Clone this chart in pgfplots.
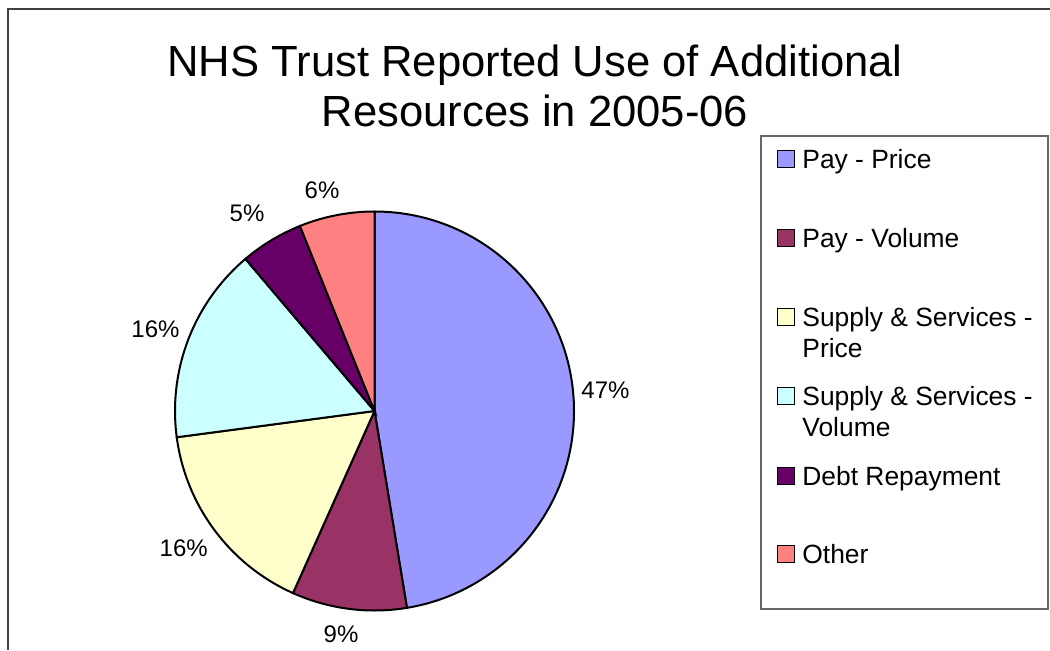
\documentclass[border=0pt]{standalone}
\usepackage{pgfplots}
\usepackage{pgfplotstable}
\pgfplotsset{compat=1.18}
\usepackage{fontspec}
\setmainfont{Liberation Sans}

\definecolor{payprice}{HTML}{9999FF}
\definecolor{payvol}{HTML}{993366}
\definecolor{supprice}{HTML}{FFFFCC}
\definecolor{supvol}{HTML}{CCFFFF}
\definecolor{debt}{HTML}{660066}
\definecolor{other}{HTML}{FF8080}

% share of each slice (percent), label text and label position (px, y down)
\pgfplotstableread[col sep=comma]{
name,value,pct,col,lx,ly
PayPrice,47.4,47,payprice,605.5,390
PayVolume,9.3,9,payvol,341,634
SupplyPrice,16.2,16,supprice,183.7,548.7
SupplyVolume,15.9,16,supvol,155.5,329
Debt,5.1,5,debt,247,213
Other,6.1,6,other,322,190
}\piedata

% slice start / end angles, clockwise from 12 o'clock
\def\cum{0}
\pgfplotsforeachungrouped \i in {0,...,5}{%
  \pgfplotstablegetelem{\i}{value}\of\piedata
  \let\v\pgfplotsretval
  \pgfmathsetmacro\a{90-3.6*\cum}%
  \pgfmathsetmacro\cum{\cum+\v}%
  \pgfmathsetmacro\b{90-3.6*\cum}%
  \expandafter\xdef\csname sa\i\endcsname{\a}%
  \expandafter\xdef\csname ea\i\endcsname{\b}%
  \pgfplotstablegetelem{\i}{col}\of\piedata
  \expandafter\xdef\csname sc\i\endcsname{\pgfplotsretval}%
}

\newcommand\lblfont{\fontsize{12}{14}\selectfont}
\newcommand\legfont{\fontsize{13.2}{15}\selectfont}
\newcommand\titlefont{\fontsize{21.8}{24}\selectfont}

\begin{document}
\begin{tikzpicture}
\useasboundingbox (0,0) rectangle (525pt,325pt);
\begin{axis}[
  scale only axis, width=525pt, height=325pt,
  xmin=0, xmax=1050, ymin=0, ymax=650, y dir=reverse,
  hide axis, clip=false,
]
\pgfplotsinvokeforeach{0,...,5}{
  \edef\temp{\noexpand\draw[line width=1pt, fill=\csname sc#1\endcsname]
    (axis cs:374.5,411) -- ++(\csname sa#1\endcsname:99.75pt)
    arc[start angle=\csname sa#1\endcsname, end angle=\csname ea#1\endcsname, radius=99.75pt]
    -- cycle;}
  \temp
}
\addplot[only marks, mark=none, point meta=explicit symbolic,
  nodes near coords={\pgfplotspointmeta\%},
  every node near coord/.append style={anchor=center, inner sep=0pt, font=\lblfont}]
  table[x=lx, y=ly, meta=pct] {\piedata};
\end{axis}

\begin{scope}[x=0.5pt, y=-0.5pt, shift={(0,325pt)}]
  \draw[line width=0.75pt, black!75] (8,650) -- (8,9) -- (1050,9);
  \node[anchor=base, inner sep=0pt, font=\titlefont] at (535,76) {NHS Trust Reported Use of Additional};
  \node[anchor=base, inner sep=0pt, font=\titlefont] at (535,126) {Resources in 2005-06};
  \draw[line width=0.6pt, black!60] (761,136) rectangle (1048,609);
  \foreach \yy/\cc/\lab in {159/payprice/{Pay - Price}, 238/payvol/{Pay - Volume},
      317/supprice/{Supply \& Services -}, 396/supvol/{Supply \& Services -},
      476/debt/{Debt Repayment}, 554/other/{Other}}{
    \draw[fill=\cc, line width=0.75pt] (777.5,\yy-8.5) rectangle (794.5,\yy+8.5);
    \node[anchor=base west, inner sep=0pt, font=\legfont] at (802,\yy+9.5) {\lab};
  }
  \node[anchor=base west, inner sep=0pt, font=\legfont] at (802,348+9.5) {Price};
  \node[anchor=base west, inner sep=0pt, font=\legfont] at (802,427+9.5) {Volume};
\end{scope}
\end{tikzpicture}
\end{document}
